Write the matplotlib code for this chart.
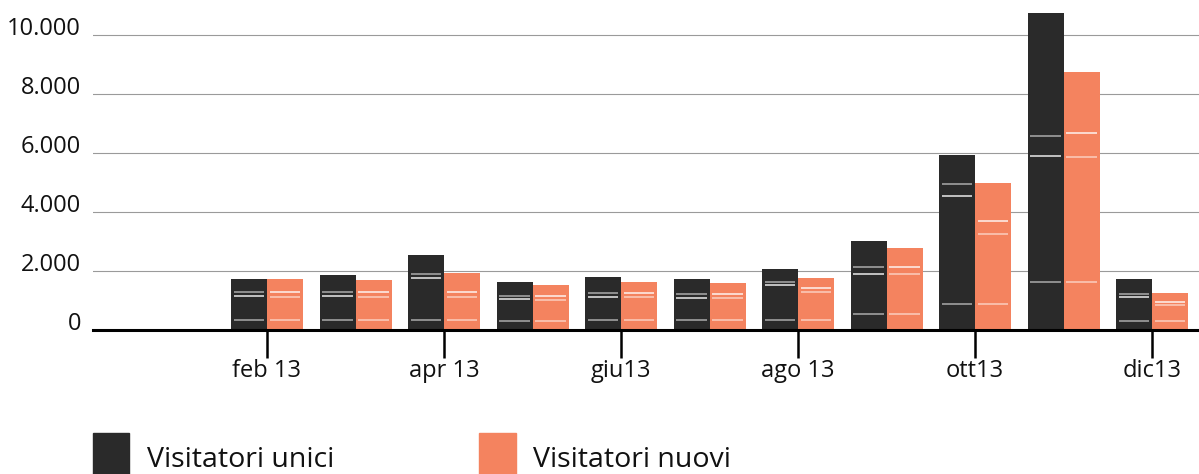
import numpy as np
import matplotlib
matplotlib.use('Agg')
import matplotlib.pyplot as plt
from matplotlib.patches import Rectangle

plt.rcParams['font.family'] = ['Open Sans', 'DejaVu Sans']

# Data (gen 13 has no bars)
mesi = ['gen', 'feb', 'mar', 'apr', 'mag', 'giu', 'lug', 'ago', 'set', 'ott', 'nov', 'dic']
visitatori_unici = [np.nan, 1720, 1850, 2530, 1620, 1790, 1720, 2060, 3010, 5930, 10750, 1730]
visitatori_nuovi = [np.nan, 1720, 1690, 1930, 1520, 1620, 1590, 1760, 2770, 4980, 8750, 1250]

# white marker lines drawn inside each bar
segni_unici = [[], [1263, 1127, 323], [1285, 1150, 323], [1900, 1760, 313], [1138, 1026, 300],
               [1250, 1115, 313], [1217, 1082, 313], [1625, 1512, 313], [2113, 1897, 537],
               [4930, 4520, 880], [6590, 5910, 1630], [1190, 1090, 300]]
segni_nuovi = [[], [1263, 1115, 323], [1275, 1110, 323], [1263, 1104, 313], [1150, 1013, 300],
               [1250, 1093, 313], [1217, 1070, 313], [1400, 1263, 313], [2134, 1875, 537],
               [3670, 3230, 880], [6660, 5850, 1630], [950, 820, 300]]

tick_pos = [1, 3, 5, 7, 9, 11]
tick_labels = ['feb 13', 'apr 13', 'giu13', 'ago 13', 'ott13', 'dic13']
y_ticks = [0, 2000, 4000, 6000, 8000, 10000]
y_labels = ['0', '2.000', '4.000', '6.000', '8.000', '10.000']

col_unici = '#2a2a2a'
col_nuovi = '#f4835f'

W, H = 1199, 474
fig = plt.figure(figsize=(W / 100, H / 100), dpi=100)
ax = fig.add_axes([93 / W, (H - 329.5) / H, (W - 93) / W, 329.5 / H])

x = np.arange(len(mesi))
w = 36 / 88.5
ax.bar(x - w, visitatori_unici, width=w, align='edge', color=col_unici, zorder=2)
ax.bar(x, visitatori_nuovi, width=w, align='edge', color=col_nuovi, zorder=2)

# white lines inside bars
ins = 0.03
for i in range(len(mesi)):
    for j, v in enumerate(segni_unici[i]):
        ax.hlines(v, x[i] - w + ins, x[i] - ins, color='white', lw=1.1,
                  alpha=0.9 if j == 1 else 0.6, zorder=3)
    for j, v in enumerate(segni_nuovi[i]):
        ax.hlines(v, x[i] + ins, x[i] + w - ins, color='white', lw=1.1,
                  alpha=0.9 if j == 0 else 0.6, zorder=3)

ax.set_xlim(1 - 174 / 88.5, 1 + 932 / 88.5)
ax.set_ylim(0, 329.5 / 0.02943)

for t in y_ticks[1:]:
    ax.axhline(t, color='#9a9a9a', lw=0.8, zorder=1)
ax.axhline(0, color='black', lw=2.2, zorder=4, clip_on=False)

for s in ax.spines.values():
    s.set_visible(False)

ax.set_yticks(y_ticks)
ax.set_yticklabels(y_labels)
for lab in ax.get_yticklabels():
    lab.set_va('baseline')
ax.tick_params(axis='y', length=0, pad=8.6, labelsize=17, labelcolor='#111111')

ax.set_xticks(tick_pos)
ax.set_xticklabels(tick_labels)
ax.tick_params(axis='x', length=20, width=1.8, pad=1.5, labelsize=17,
               color='black', labelcolor='#111111')

# legend
fig.patches.append(Rectangle((92.6 / W, 0), 36 / W, 41.5 / H, transform=fig.transFigure,
                             color=col_unici, zorder=5))
fig.text(147 / W, (H - 467) / H, 'Visitatori unici', fontsize=20.5, color='#111111',
         va='baseline', ha='left')
fig.patches.append(Rectangle((479 / W, 0), 36.5 / W, 41.5 / H, transform=fig.transFigure,
                             color=col_nuovi, zorder=5))
fig.text(533 / W, (H - 467) / H, 'Visitatori nuovi', fontsize=20.5, color='#111111',
         va='baseline', ha='left')

fig.savefig('out.png', dpi=100)
